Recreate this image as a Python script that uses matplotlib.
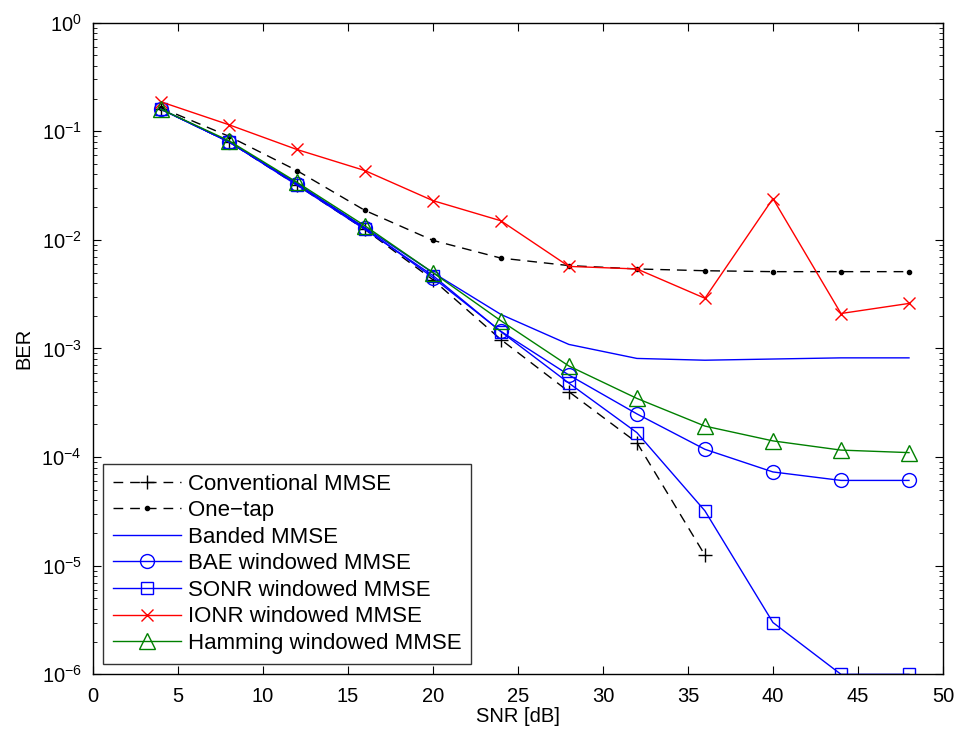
import matplotlib
matplotlib.use("Agg")
import matplotlib.pyplot as plt

plt.rcParams['font.family'] = ['Liberation Sans', 'DejaVu Sans']
plt.rcParams['mathtext.fontset'] = 'custom'
plt.rcParams['mathtext.rm'] = 'Liberation Sans'

snr = [4, 8, 12, 16, 20, 24, 28, 32, 36, 40, 44, 48]
snr_conv = [4, 8, 12, 16, 20, 24, 28, 32, 36]

ber_conv = [0.16, 0.080, 0.032, 0.0125, 0.0043, 0.00121, 0.00040, 0.000136, 1.25e-5]
ber_onetap = [0.165, 0.090, 0.0435, 0.0187, 0.0099, 0.0068, 0.0058, 0.0054, 0.0052, 0.0051, 0.0051, 0.0051]
ber_banded = [0.16, 0.080, 0.033, 0.0130, 0.0050, 0.00206, 0.00109, 0.00081, 0.00078, 0.00080, 0.00082, 0.00082]
ber_bae = [0.16, 0.080, 0.033, 0.0128, 0.0045, 0.00144, 0.00057, 0.00025, 1.18e-4, 7.3e-5, 6.1e-5, 6.1e-5]
ber_sonr = [0.16, 0.080, 0.032, 0.0125, 0.0047, 0.00143, 0.00048, 1.68e-4, 3.2e-5, 3.0e-6, 1.0e-6, 1.0e-6]
ber_ionr = [0.187, 0.115, 0.068, 0.0435, 0.023, 0.015, 0.0057, 0.0054, 0.0029, 0.024, 0.0021, 0.0026]
ber_hamm = [0.16, 0.082, 0.034, 0.0135, 0.0050, 0.0018, 0.00069, 0.000347, 1.93e-4, 1.41e-4, 1.16e-4, 1.10e-4]

fig = plt.figure(figsize=(9.56, 7.36), dpi=100)
ax = fig.add_axes([0.097, 0.0838, 0.9864 - 0.097, 0.9692 - 0.0838])

lw = 1.0
dash = (0, (7, 5))
ax.semilogy(snr_conv, ber_conv, color='black', ls=dash, lw=lw, marker='+', ms=10,
            mew=1.0, label='Conventional MMSE')
ax.semilogy(snr, ber_onetap, color='black', ls=dash, lw=lw, marker='.', ms=6,
            label='One\u2212tap')
ax.semilogy(snr, ber_banded, color='blue', lw=lw, label='Banded MMSE')
ax.semilogy(snr, ber_bae, color='blue', lw=lw, marker='o', ms=10, mfc='none', mew=1.0,
            label='BAE windowed MMSE')
ax.semilogy(snr, ber_sonr, color='blue', lw=lw, marker='s', ms=9, mfc='none', mew=1.0,
            label='SONR windowed MMSE')
ax.semilogy(snr, ber_ionr, color='red', lw=lw, marker='x', ms=8, mew=1.0,
            label='IONR windowed MMSE')
ax.semilogy(snr, ber_hamm, color='green', lw=lw, marker='^', ms=11, mfc='none', mew=1.0,
            label='Hamming windowed MMSE')

ax.set_xlim(0, 50)
ax.set_ylim(1e-6, 1)
ax.set_xticks(range(0, 51, 5))
ax.tick_params(which='both', direction='in', top=True, right=True, labelsize=14.5)
ax.tick_params(which='major', length=6)
ax.tick_params(which='minor', length=3)
ax.tick_params(axis='x', pad=9)
ax.tick_params(axis='y', pad=8)
for s in ax.spines.values():
    s.set_linewidth(1.0)
ax.set_xlabel('SNR [dB]', fontsize=14.5, labelpad=1)
ax.set_ylabel('BER', fontsize=14.5, labelpad=6)

leg = ax.legend(loc='lower left', bbox_to_anchor=(0.012, 0.016), fontsize=16, frameon=True,
                fancybox=False, edgecolor='black', handlelength=3.05, borderpad=0.45,
                labelspacing=0.25, handletextpad=0.32, borderaxespad=0)
leg.get_frame().set_linewidth(1.0)

fig.savefig('out.png', dpi=100)
